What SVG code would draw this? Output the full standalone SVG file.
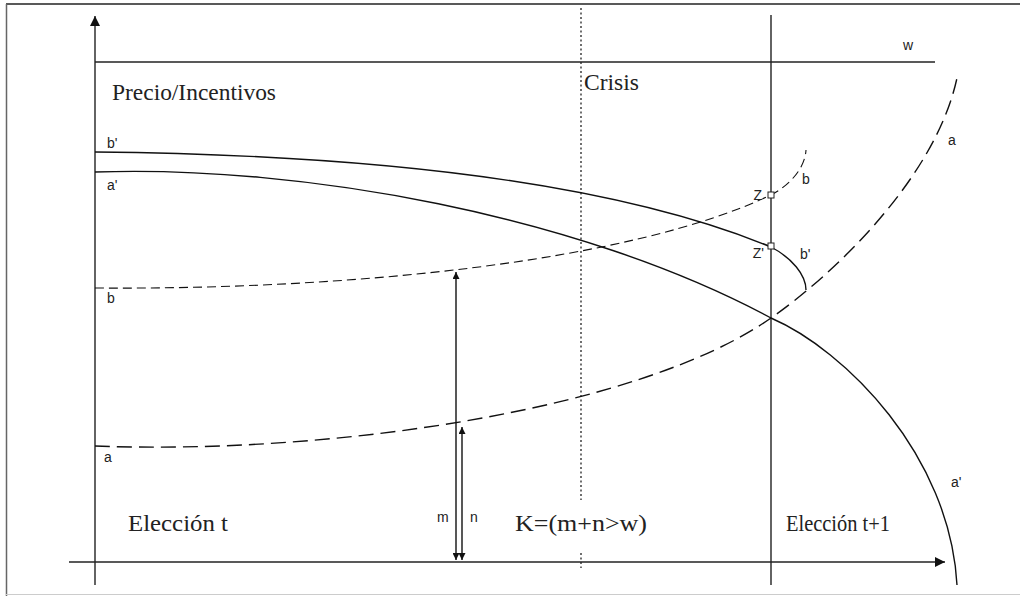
<svg xmlns="http://www.w3.org/2000/svg" width="1020" height="596" viewBox="0 0 1020 596">
<defs>
<style>
.ax{stroke:#222;stroke-width:1.4;fill:none}
.sol{stroke:#111;stroke-width:1.4;fill:none}
.da{stroke:#111;stroke-width:1.4;fill:none;stroke-dasharray:15,7}
.db{stroke:#111;stroke-width:1.1;fill:none;stroke-dasharray:9,5}
.dot{stroke:#222;stroke-width:1.3;fill:none;stroke-dasharray:2,2.5}
.serif{font-family:"Liberation Serif","Times New Roman",serif;font-size:23px;fill:#222}
.sans{font-family:"Liberation Sans",Arial,sans-serif;font-size:14px;fill:#222}
.sq{fill:#fff;stroke:#222;stroke-width:1}
</style>
<marker id="arr" viewBox="0 0 10 10" refX="10" refY="5" markerWidth="10" markerHeight="10" markerUnits="userSpaceOnUse" orient="auto-start-reverse">
<path d="M0,0 L10,5 L0,10 Z" fill="#111"/>
</marker>
<marker id="sarr" viewBox="0 0 10 10" refX="10" refY="5" markerWidth="9" markerHeight="7" markerUnits="userSpaceOnUse" orient="auto-start-reverse">
<path d="M0,0 L10,5 L0,10 Z" fill="#111"/>
</marker>
</defs>
<rect width="1020" height="596" fill="#fff"/>
<g id="frame">
<line x1="6" y1="4" x2="1020" y2="4" stroke="#222" stroke-width="1.5"/>
<line x1="6.5" y1="4" x2="6.5" y2="596" stroke="#666" stroke-width="1.5"/>
<line x1="6" y1="594.5" x2="1020" y2="594.5" stroke="#ccc" stroke-width="1"/>
</g>
<g id="axes">
<line class="ax" x1="95" y1="585" x2="95" y2="16" marker-end="url(#arr)"/>
<line class="ax" x1="69" y1="562" x2="945" y2="562" marker-end="url(#arr)"/>
<line class="ax" x1="95" y1="62" x2="935" y2="62"/>
<line class="dot" x1="581" y1="8" x2="581" y2="500"/>
<line class="dot" x1="581" y1="553" x2="581" y2="568"/>
<line class="ax" x1="771" y1="15" x2="771" y2="585"/>
</g>
<g id="connectors">
<path id="curve-bp" class="sol" d="M95,152 C400,155 625,187 771,247 C792,258 806,275 806,290"/>
<path id="curve-ap" class="sol" d="M95,172 C300,165 580,215 771,318 C845,350 950,455 957,585"/>
<path id="curve-b" class="db" d="M95,288 C350,290 630,262 771,195 C790,185 805,168 806,150"/>
<path id="curve-a" class="da" d="M95,446 C330,455 640,410 771,318 C830,277 935,180 957,78"/>
<line id="arrow-m" class="sol" x1="456" y1="560" x2="456" y2="272" stroke-width="1.2" marker-start="url(#sarr)" marker-end="url(#sarr)"/>
<line id="arrow-n" class="sol" x1="462" y1="560" x2="462" y2="427" stroke-width="1.2" marker-start="url(#sarr)" marker-end="url(#sarr)"/>
</g>
<g id="node-Z"><rect class="sq" x="768" y="192" width="6" height="6"/><text class="sans" x="762" y="200" text-anchor="end">Z</text></g>
<g id="node-Zp"><rect class="sq" x="768" y="243" width="6" height="6"/><text class="sans" x="764" y="258" text-anchor="end">Z'</text></g>
<g id="labels">
<text class="serif" x="112" y="100" textLength="164" lengthAdjust="spacingAndGlyphs">Precio/Incentivos</text>
<text class="serif" x="584" y="90" textLength="55" lengthAdjust="spacingAndGlyphs">Crisis</text>
<text class="serif" x="128" y="531" textLength="100" lengthAdjust="spacingAndGlyphs">Elección t</text>
<text class="serif" x="515" y="531" textLength="132" lengthAdjust="spacingAndGlyphs">K=(m+n&gt;w)</text>
<text class="serif" x="786" y="531" font-size="20" textLength="104" lengthAdjust="spacingAndGlyphs">Elección t+1</text>
<text class="sans" x="903" y="50">w</text>
<text class="sans" x="107" y="148">b'</text>
<text class="sans" x="107" y="190">a'</text>
<text class="sans" x="107" y="303">b</text>
<text class="sans" x="104" y="462">a</text>
<text class="sans" x="802" y="184">b</text>
<text class="sans" x="800" y="259">b'</text>
<text class="sans" x="948" y="145">a</text>
<text class="sans" x="951" y="487">a'</text>
<text class="sans" x="437" y="522">m</text>
<text class="sans" x="470" y="522">n</text>
</g>
</svg>
